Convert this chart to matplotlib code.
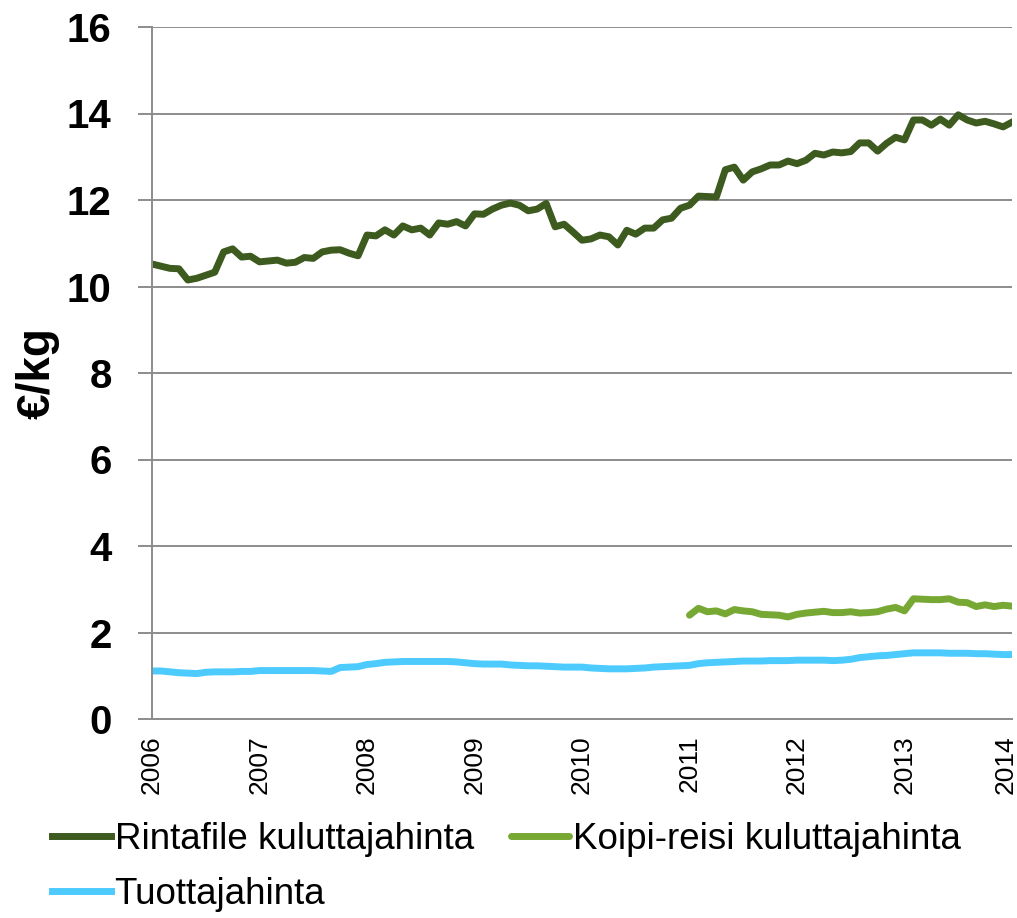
"""
Broiler prices 2006-2014: breast fillet and leg-thigh consumer prices vs producer price.
Output: out.png
"""
import matplotlib

matplotlib.use("agg")
import matplotlib.pyplot as plt  # noqa: E402
import matplotlib.transforms as mtransforms  # noqa: E402
import numpy as np  # noqa: E402

plt.rcParams["font.family"] = ["Liberation Sans", "DejaVu Sans"]

# monthly values, Jan 2006 .. Jan 2014 (97 months)
rintafile = [
    10.52, 10.47, 10.42, 10.41, 10.15, 10.19, 10.26, 10.33, 10.80, 10.87, 10.68, 10.70,
    10.57, 10.59, 10.61, 10.54, 10.56, 10.67, 10.65, 10.80, 10.84, 10.85, 10.77, 10.71,
    11.19, 11.17, 11.31, 11.19, 11.40, 11.31, 11.35, 11.19, 11.47, 11.44, 11.50, 11.40,
    11.68, 11.67, 11.79, 11.88, 11.93, 11.88, 11.75, 11.79, 11.92, 11.38, 11.44, 11.26,
    11.07, 11.10, 11.19, 11.15, 10.96, 11.30, 11.21, 11.35, 11.35, 11.54, 11.58, 11.81,
    11.88, 12.09, 12.08, 12.07, 12.70, 12.76, 12.46, 12.65, 12.72, 12.81, 12.81, 12.90,
    12.84, 12.92, 13.08, 13.04, 13.11, 13.09, 13.12, 13.32, 13.32, 13.13, 13.31, 13.45,
    13.39, 13.85, 13.85, 13.73, 13.87, 13.73, 13.97, 13.85, 13.78, 13.82, 13.76, 13.69,
    13.80,
]
# leg-thigh series starts Jan 2011
koipi_start = 60
koipi = [
    2.40, 2.56, 2.48, 2.50, 2.43, 2.53, 2.50, 2.48, 2.42, 2.41, 2.40, 2.36,
    2.42, 2.45, 2.47, 2.49, 2.46, 2.46, 2.48, 2.45, 2.46, 2.48, 2.54, 2.58,
    2.50, 2.78, 2.77, 2.76, 2.76, 2.78, 2.70, 2.69, 2.60, 2.64, 2.60, 2.63,
    2.61,
]
tuottaja = [
    1.11, 1.11, 1.09, 1.07, 1.06, 1.05, 1.08, 1.09, 1.09, 1.09, 1.10, 1.10,
    1.12, 1.12, 1.12, 1.12, 1.12, 1.12, 1.12, 1.11, 1.10, 1.19, 1.20, 1.21,
    1.26, 1.28, 1.31, 1.32, 1.33, 1.33, 1.33, 1.33, 1.33, 1.33, 1.32, 1.30,
    1.28, 1.27, 1.27, 1.27, 1.25, 1.24, 1.23, 1.23, 1.22, 1.21, 1.20, 1.20,
    1.20, 1.18, 1.17, 1.16, 1.16, 1.16, 1.17, 1.18, 1.20, 1.21, 1.22, 1.23,
    1.24, 1.28, 1.30, 1.31, 1.32, 1.33, 1.34, 1.34, 1.34, 1.35, 1.35, 1.35,
    1.36, 1.36, 1.36, 1.36, 1.35, 1.36, 1.38, 1.42, 1.44, 1.46, 1.47, 1.49,
    1.51, 1.53, 1.53, 1.53, 1.53, 1.52, 1.52, 1.52, 1.51, 1.51, 1.50, 1.49,
    1.49,
]
years = list(range(2006, 2015))
labels = ["Rintafile kuluttajahinta", "Koipi-reisi kuluttajahinta", "Tuottajahinta"]

t = 2006 + np.arange(len(rintafile)) / 12
t_koipi = t[koipi_start:koipi_start + len(koipi)]

fig = plt.figure(figsize=(10.17, 9.18), dpi=100)
ax = fig.add_axes([152 / 1017, 1 - 719 / 918, 860 / 1017, 692 / 918])

GRID = "#8C8C8C"
LW = 5.0
l1, = ax.plot(t, rintafile, color="#3D5A1F", lw=LW, solid_joinstyle="round")
l2, = ax.plot(t_koipi, koipi, color="#76A833", lw=LW, solid_joinstyle="round",
              solid_capstyle="round")
l3, = ax.plot(t, tuottaja, color="#4DCBFF", lw=LW, solid_joinstyle="round")

ax.set_xlim(2006, 2014)
ax.set_ylim(0, 16)
ax.set_yticks(range(0, 17, 2))
ax.set_xticks(years)
ax.set_xticklabels([str(y) for y in years], rotation=90, fontsize=19, va="top")
ax.tick_params(axis="x", length=0, pad=12)
ax.tick_params(axis="y", length=10, width=1.4, color=GRID, labelsize=29, pad=19)
for lab in ax.get_yticklabels():
    lab.set_fontweight("bold")
# last year label sits right at the figure edge; nudge it in a little
last = ax.get_xticklabels()[-1]
last.set_transform(last.get_transform()
                   + mtransforms.ScaledTranslation(-6 / 100, 0, fig.dpi_scale_trans))
ax.yaxis.grid(True, color=GRID, lw=1.4)
ax.set_axisbelow(True)
for side in ("top", "right"):
    ax.spines[side].set_visible(False)
for side in ("left", "bottom"):
    ax.spines[side].set_color(GRID)
    ax.spines[side].set_linewidth(1.4)

ax.set_ylabel("€/kg", fontsize=33, fontweight="bold", labelpad=5)

# legend fills column-wise, so order handles to read row-wise like the original
fig.legend([l1, l3, l2], [labels[0], labels[2], labels[1]], loc="upper left",
           bbox_to_anchor=(52 / 1017, 1 - 822 / 918), ncol=2, frameon=False,
           fontsize=26.5, handlelength=1.6, handletextpad=0.1, columnspacing=1.0,
           labelspacing=0.55, borderaxespad=0, borderpad=0)

fig.savefig("out.png", dpi=100)
